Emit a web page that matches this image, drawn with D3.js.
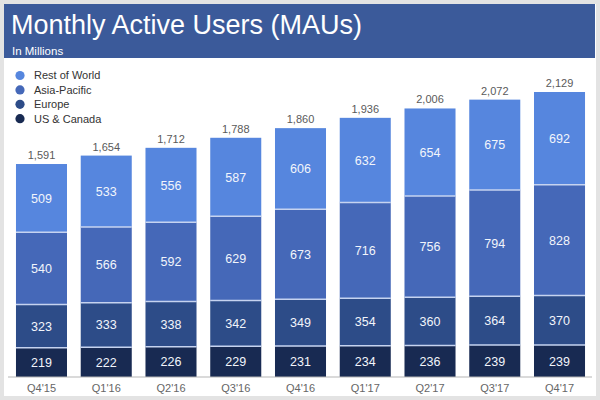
<!DOCTYPE html>
<html><head><meta charset="utf-8">
<script src="https://cdn.jsdelivr.net/npm/d3@7"></script>
<style>body{margin:0;background:#fff}svg{display:block}</style>
</head><body>
<svg id="c" width="600" height="400"></svg>
<script>
const quarters = ["Q4'15","Q1'16","Q2'16","Q3'16","Q4'16","Q1'17","Q2'17","Q3'17","Q4'17"];
const usCanada = [219,222,226,229,231,234,236,239,239];
const europe = [323,333,338,342,349,354,360,364,370];
const asiaPacific = [540,566,592,629,673,716,756,794,828];
const restOfWorld = [509,533,556,587,606,632,654,675,692];
const totals = ["1,591","1,654","1,712","1,788","1,860","1,936","2,006","2,072","2,129"];
const seriesNames = ["US & Canada","Europe","Asia-Pacific","Rest of World"];
const seriesColors = ["#182a52","#2d4c88","#4568b8","#5686de"];

(function(){
const svg = d3.select("#c");
const font = "'Liberation Sans', Arial, sans-serif";

// frame
svg.append("rect").attr("width",600).attr("height",400).attr("fill","#e3e3e3");
svg.append("rect").attr("x",4).attr("y",4).attr("width",592).attr("height",392).attr("fill","#fff");
svg.append("rect").attr("x",4).attr("y",4).attr("width",591).attr("height",54).attr("fill","#3b5a9a");
svg.append("text").attr("x",11).attr("y",34).attr("fill","#fff")
  .style("font-family",font).style("font-size","27px").text("Monthly Active Users (MAUs)");
svg.append("text").attr("x",12).attr("y",55).attr("fill","#fff")
  .style("font-family",font).style("font-size","11.5px").text("In Millions");

const rows = quarters.map((q,i)=>({q, "US & Canada":usCanada[i], "Europe":europe[i], "Asia-Pacific":asiaPacific[i], "Rest of World":restOfWorld[i], total:totals[i]}));
const stack = d3.stack().keys(seriesNames)(rows);

const x = d3.scaleBand().domain(quarters).range([9.5,591.5]).paddingInner(0.212).paddingOuter(0.1);
const y = d3.scaleLinear().domain([0,2129]).range([377,92]);

const g = svg.append("g");
stack.forEach((s,si)=>{
  g.selectAll(null).data(s).enter().append("rect")
    .attr("x",d=>x(d.data.q)).attr("width",x.bandwidth())
    .attr("y",d=>y(d[1])).attr("height",d=>y(d[0])-y(d[1]))
    .attr("fill",seriesColors[si]);
});
// separators
stack.slice(0,3).forEach(s=>{
  g.selectAll(null).data(s).enter().append("line")
    .attr("x1",d=>x(d.data.q)).attr("x2",d=>x(d.data.q)+x.bandwidth())
    .attr("y1",d=>y(d[1])).attr("y2",d=>y(d[1]))
    .attr("stroke","#c6d3f0").attr("stroke-width",1.5);
});
// segment labels
stack.forEach(s=>{
  g.selectAll(null).data(s).enter().append("text")
    .attr("x",d=>x(d.data.q)+x.bandwidth()/2)
    .attr("y",d=>(y(d[0])+y(d[1]))/2)
    .attr("dy","0.36em").attr("text-anchor","middle").attr("fill","#f2f5fb")
    .style("font-family",font).style("font-size","12.5px")
    .text(d=>d.data[s.key]);
});
// totals
const topSeries = stack[stack.length-1];
g.selectAll(null).data(topSeries).enter().append("text")
  .attr("x",d=>x(d.data.q)+x.bandwidth()/2).attr("y",d=>y(d[1])-5)
  .attr("text-anchor","middle").attr("fill","#5a5a5a")
  .style("font-family",font).style("font-size","11px")
  .text(d=>d.data.total);

// x axis
const xa = svg.append("g").attr("transform","translate(0,377)").call(d3.axisBottom(x).tickSize(0).tickPadding(7));
xa.select(".domain").remove();
xa.append("line").attr("x1",8).attr("x2",592).attr("stroke","#b5b5b5").attr("stroke-width",1);
xa.selectAll("text").attr("fill","#666").style("font-family",font).style("font-size","11px");

// legend
const legendOrder = ["Rest of World","Asia-Pacific","Europe","US & Canada"];
const lg = svg.append("g");
legendOrder.forEach((n,i)=>{
  const c = seriesColors[seriesNames.indexOf(n)];
  lg.append("circle").attr("cx",20).attr("cy",75.5+i*14.4).attr("r",4.6).attr("fill",c);
  lg.append("text").attr("x",34).attr("y",75.5+i*14.4).attr("dy","0.36em").attr("fill","#333")
    .style("font-family",font).style("font-size","11px").text(n);
});
})();
</script>
</body></html>
